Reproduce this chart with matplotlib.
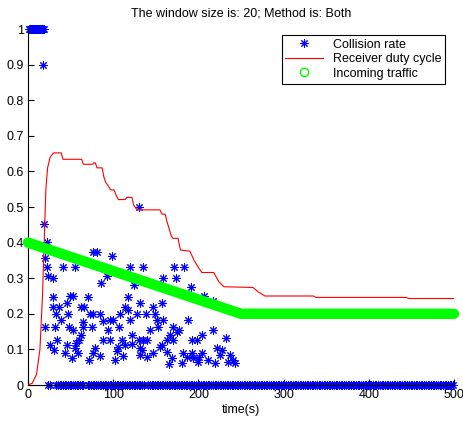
import numpy as np
import matplotlib
matplotlib.use('Agg')
import matplotlib.pyplot as plt
from matplotlib.lines import Line2D

plt.rcParams['font.family'] = ['Liberation Sans', 'DejaVu Sans']

title = 'The window size is: 20; Method is: Both'

# collision rate: early saturated samples (value 1)
top_x = [1, 2, 3, 4, 5, 6, 7, 8, 9, 10, 11, 12, 13, 14, 15, 16, 17, 18, 19]
top_y = [1.0] * len(top_x)

# collision rate: scattered non-zero samples
col_x = [17.6, 18.8, 21.9, 20, 22.7, 23.9, 29.7, 41.5, 55.2, 75.9, 81.4, 98.2, 92.3, 85.7,
         119.7, 134.6, 124.4, 129.9, 171.7, 183.5, 158, 173.7, 191, 207, 217.5,
         29, 49.3, 53.2, 70, 117.7, 29, 36.8, 45.4, 62.2, 66.1, 113.8, 131.5, 32.9, 46.6,
         72.8, 76.6, 84.5, 108, 117.7, 127.6, 38.7, 64.9, 88.4, 96.2, 100.1, 119.7, 20,
         31.7, 48.5, 64.9, 74.8, 106.8, 52.4, 94.3, 61.8, 121.7, 60.2, 34.4, 87.7, 96.2,
         110, 130.6, 56.3, 25.8, 45.4, 106, 113.8, 121.7, 30.5, 55.2, 78.6, 131.5, 43.4,
         59, 76.6, 84.5, 104, 111.9, 131.5, 51.3, 72, 102,
         146.3, 156.9, 138.5, 149, 151, 158.8, 152.9, 187.4, 143.2, 170.6, 174.5, 177.6,
         216.8, 166.7, 203.9, 232.4, 135.3, 140, 162.8, 170.6, 192, 198, 156.9, 154.9,
         221.5, 227.3, 133.4, 162.8, 147, 181.6, 192, 203.9, 225.4, 139.3, 168.7, 237,
         186.3, 194, 201, 211.6, 219.5, 241, 243, 165.8, 180.4, 199.9, 235]
col_y = [0.9, 0.451, 0.401, 0.356, 0.332, 0.306, 0.30, 0.332, 0.332, 0.374, 0.374, 0.363, 0.306, 0.286,
         0.332, 0.332, 0.281, 0.501, 0.332, 0.332, 0.30, 0.30, 0.274, 0.251, 0.237,
         0.248, 0.25, 0.25, 0.248, 0.248, 0.22, 0.22, 0.229, 0.22, 0.22, 0.22, 0.229, 0.199, 0.199,
         0.2, 0.2, 0.199, 0.199, 0.211, 0.199, 0.183, 0.178, 0.18, 0.183, 0.183, 0.183, 0.164,
         0.164, 0.164, 0.164, 0.164, 0.164, 0.154, 0.154, 0.14, 0.14, 0.126, 0.126, 0.126, 0.126,
         0.126, 0.126, 0.117, 0.112, 0.112, 0.108, 0.112, 0.114, 0.098, 0.103, 0.103, 0.103, 0.089,
         0.089, 0.089, 0.081, 0.095, 0.081, 0.084, 0.075, 0.07, 0.07,
         0.22, 0.229, 0.199, 0.199, 0.183, 0.183, 0.164, 0.183, 0.154, 0.164, 0.15, 0.154,
         0.154, 0.14, 0.14, 0.133, 0.126, 0.126, 0.126, 0.126, 0.126, 0.126, 0.112, 0.108,
         0.103, 0.098, 0.098, 0.094, 0.089, 0.089, 0.089, 0.089, 0.084, 0.079, 0.077, 0.084,
         0.079, 0.075, 0.079, 0.07, 0.061, 0.07, 0.061, 0.058, 0.061, 0.065, 0.065]

# collision rate is zero for every sample inside these time ranges
zero_ranges = [(24, 26), (33, 65), (70, 136), (141, 500)]
zero_step = 2

# receiver duty cycle
duty_x = [0, 5, 10, 14, 17, 19, 21, 23, 26, 30, 39, 41, 63, 65, 76, 77, 79, 81, 87, 89, 91, 94,
          97, 101, 104, 106, 114, 116, 122, 124, 128, 155, 157, 161, 163, 168, 170, 176, 179,
          190, 195, 200, 204, 218, 224, 230, 264, 270, 278, 335, 338, 444, 447, 500]
duty_y = [0, 0.005, 0.03, 0.1, 0.25, 0.4, 0.55, 0.61, 0.64, 0.652, 0.652, 0.634, 0.634, 0.62,
          0.62, 0.624, 0.624, 0.61, 0.61, 0.585, 0.57, 0.56, 0.548, 0.548, 0.53, 0.521, 0.521,
          0.527, 0.527, 0.505, 0.492, 0.492, 0.48, 0.48, 0.46, 0.42, 0.412, 0.412, 0.379,
          0.376, 0.35, 0.33, 0.316, 0.316, 0.29, 0.276, 0.274, 0.262, 0.25, 0.25, 0.246,
          0.246, 0.243, 0.243]

# incoming traffic
traffic_x = [0, 250, 500]
traffic_y = [0.4, 0.2, 0.2]

zero_x = np.concatenate([np.arange(a, b + 1, zero_step) for a, b in zero_ranges])

fig = plt.figure(figsize=(4.63, 4.24), dpi=100)
ax = fig.add_axes([28 / 463, 1 - 385 / 424, 426 / 463, 356 / 424])

star = (8, 2, 0)
blue = '#0000ff'
for xs, ys in [(top_x, top_y), (col_x, col_y), (zero_x, np.zeros(len(zero_x)))]:
    ax.plot(xs, ys, ls='none', marker=star, ms=6, mec=blue, mfc=blue, mew=0.75,
            clip_on=False, zorder=2)
ax.plot(duty_x, duty_y, color='#ff0000', lw=0.8, zorder=3)
ax.plot(traffic_x, traffic_y, color='#00ff00', lw=7.5, solid_capstyle='round',
        solid_joinstyle='round', clip_on=False, zorder=4)

ax.set_xlim(0, 500)
ax.set_ylim(0, 1)
ax.set_xticks([0, 100, 200, 300, 400, 500])
ax.set_yticks(np.arange(0, 1.01, 0.1))
ax.set_yticklabels(['0', '0.1', '0.2', '0.3', '0.4', '0.5', '0.6', '0.7', '0.8', '0.9', '1'])
ax.spines['top'].set_visible(False)
ax.spines['right'].set_visible(False)
ax.tick_params(direction='in', length=4, labelsize=9, pad=3)
ax.set_xlabel('time(s)', fontsize=9, labelpad=2)
ax.set_title(title, fontsize=9, pad=9)

handles = [Line2D([], [], ls='none', marker=star, ms=6, mec=blue, mfc=blue, mew=0.75),
           Line2D([], [], color='#ff0000', lw=0.8),
           Line2D([], [], ls='none', marker='o', ms=6, mfc='none', mec='#00ff00', mew=1.0)]
leg = ax.legend(handles, ['Collision rate', 'Receiver duty cycle', 'Incoming traffic'],
                loc='upper right', bbox_to_anchor=(0.979, 0.983), borderaxespad=0,
                fontsize=9, handlelength=3, labelspacing=0.2, fancybox=False,
                framealpha=1, edgecolor='black', borderpad=0.3)
leg.get_frame().set_linewidth(0.8)

fig.savefig('out.png', dpi=100)
